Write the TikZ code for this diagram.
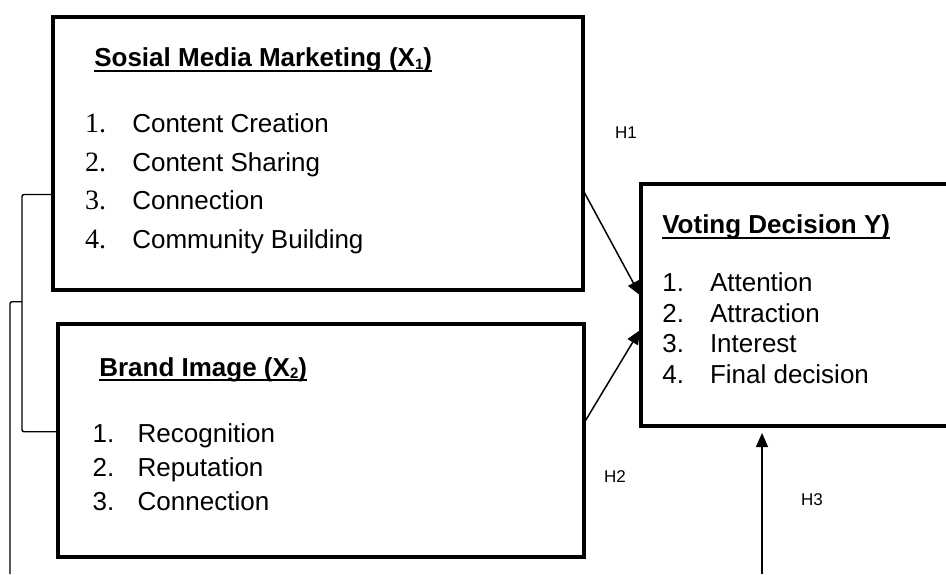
\documentclass[tikz,border=0pt]{standalone}
\usepackage{fontspec}
\setmainfont{Liberation Sans}
\newfontfamily\serifnum{Liberation Serif}
\usetikzlibrary{arrows.meta}
\newcommand{\mysub}[1]{\raisebox{-2.5pt}{\fontsize{15}{15}\selectfont #1}}
\begin{document}
\begin{tikzpicture}[x=1pt,y=-1pt,
  box/.style={draw,line width=4.4pt,inner sep=0pt,outer sep=0pt,anchor=north west},
  txt/.style={anchor=base west,inner sep=0pt,outer sep=0pt,font=\fontsize{26}{30}\selectfont},
  ttl/.style={anchor=base west,inner sep=0pt,outer sep=0pt,font=\fontsize{26}{30}\selectfont\bfseries},
  snum/.style={anchor=base west,inner sep=0pt,outer sep=0pt,font=\fontsize{28}{30}\selectfont\serifnum},
  hlab/.style={anchor=base west,inner sep=0pt,outer sep=0pt,font=\fontsize{17}{20}\selectfont},
  conn/.style={line width=1.5pt,-{Triangle[length=14pt,width=12pt]}},
  brk/.style={line width=1.4pt,rounded corners=2pt},
  uline/.style={line width=2pt}
]
\useasboundingbox (0,0) rectangle (946,574);
\clip (0,0) rectangle (946,574);

% boxes
\node[box,minimum width=530pt,minimum height=273pt] (b1) at (53,17) {};
\node[box,minimum width=526pt,minimum height=233pt] (b2) at (58,324) {};
\node[box,minimum width=330pt,minimum height=242pt] (b3) at (641,184) {};

% box 1 text
\node[ttl] (t1) at (94.3,66.7) {Sosial Media Marketing (X\mysub{1})};
\draw[uline] ([yshift=-3.8pt]t1.base west) -- ([yshift=-3.8pt]t1.base east);
\node[snum] (n11) at (85,132.3) {1.};
\node[txt]  (i11) at (132.3,132.3) {Content Creation};
\node[snum] (n12) at (85,171) {2.};
\node[txt]  (i12) at (132.3,171) {Content Sharing};
\node[snum] (n13) at (85,209.7) {3.};
\node[txt]  (i13) at (132.3,209.7) {Connection};
\node[snum] (n14) at (85,248.4) {4.};
\node[txt]  (i14) at (132.3,248.4) {Community Building};

% box 2 text
\node[ttl] (t2) at (99.3,376) {Brand Image (X\mysub{2})};
\draw[uline] ([yshift=-4pt]t2.base west) -- ([yshift=-4pt]t2.base east);
\node[txt] (n21) at (92.7,442.3) {1.};
\node[txt] (i21) at (137.7,442.3) {Recognition};
\node[txt] (n22) at (92.7,476.3) {2.};
\node[txt] (i22) at (137.7,476.3) {Reputation};
\node[txt] (n23) at (92.7,510.3) {3.};
\node[txt] (i23) at (137.7,510.3) {Connection};

% box 3 text
\node[ttl] (t3) at (662.3,233.3) {Voting Decision Y)};
\draw[uline] ([yshift=-4.5pt]t3.base west) -- ([yshift=-4.5pt]t3.base east);
\node[txt] (n31) at (662.3,291.7) {1.};
\node[txt] (i31) at (710,291.7) {Attention};
\node[txt] (n32) at (662.3,322.2) {2.};
\node[txt] (i32) at (710,322.2) {Attraction};
\node[txt] (n33) at (662.3,352.7) {3.};
\node[txt] (i33) at (710,352.7) {Interest};
\node[txt] (n34) at (662.3,383.2) {4.};
\node[txt] (i34) at (710,383.2) {Final decision};

% hypothesis labels
\node[hlab] (h1) at (615,138.3) {H1};
\node[hlab] (h2) at (604,482) {H2};
\node[hlab] (h3) at (801,505) {H3};

% connectors
\draw[conn,shorten >=2pt] ([yshift=-36.5pt]b1.east) -- ([yshift=8pt]b3.west);
\draw[conn,shorten >=2pt] ([yshift=17.5pt]b2.east) -- ([yshift=-23.5pt]b3.west);
\coordinate (h3s) at (762,574);
\draw[conn,shorten >=7pt] (h3s) -- (h3s |- b3.south);

% brackets
\draw[brk] ([yshift=-41pt]b1.west) -- ++(-31,0) |- ([yshift=8.8pt]b2.west);
\coordinate (kb) at (10,574);
\coordinate (kt) at (22.3,301.7);
\draw[brk] (kb) |- (kt);
\end{tikzpicture}
\end{document}
